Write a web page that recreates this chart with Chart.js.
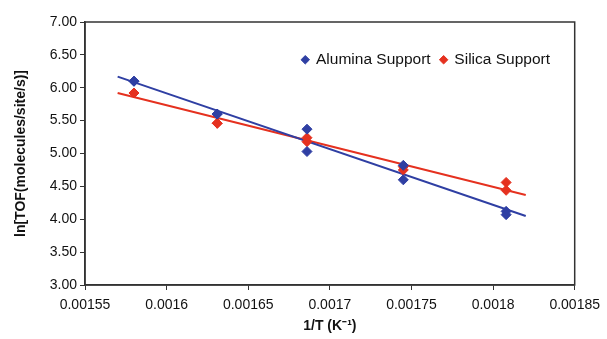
<!DOCTYPE html>
<html>
<head>
<meta charset="utf-8">
<script src="https://cdn.jsdelivr.net/npm/chart.js@4"></script>
<style>
  html, body { margin: 0; padding: 0; background: #fff; }
  #wrap { width: 607px; height: 339px; }
</style>
</head>
<body>
<div id="wrap"><canvas id="c" width="607" height="339"></canvas></div>
<script>
// 1/T values (K^-1) for the five temperatures
const invT = [0.001580, 0.001631, 0.001686, 0.001745, 0.001808];

// ln(TOF), two runs per temperature
const aluminaA = [6.10, 5.60, 5.37, 4.82, 4.12];
const aluminaB = [6.10, 5.60, 5.03, 4.60, 4.07];
const silicaA = [5.92, 5.46, 5.24, 4.80, 4.56];
const silicaB = [5.92, 5.46, 5.18, 4.75, 4.44];

// trend line ends
const trendX = [0.00157, 0.00182];
const aluminaTrend = [6.17, 4.05];
const silicaTrend = [5.92, 4.37];

const xTicks = [0.00155, 0.0016, 0.00165, 0.0017, 0.00175, 0.0018, 0.00185];

const blue = '#2f3fa3';
const red = '#e5311f';

function pts(xs, ...ys) {
    const out = [];
    ys.forEach(arr => arr.forEach((y, i) => out.push({ x: xs[i], y: y })));
    return out;
}

// draw the box round the plot area
const frame = {
    id: 'frame',
    afterDraw(chart) {
        const a = chart.chartArea, ctx = chart.ctx;
        ctx.save();
        ctx.strokeStyle = '#333';
        ctx.lineWidth = 1.5;
        ctx.strokeRect(a.left, a.top, a.right - a.left, a.bottom - a.top);
        ctx.restore();
    }
};

// keep the legend inside the plot, top right
const legendInside = {
    id: 'legendInside',
    beforeLayout(chart) {
        const l = chart.legend;
        if (l && !l._patched) {
            const fit = l.fit;
            l.fit = function () { fit.call(this); this.height = 0; };
            l._patched = true;
        }
    },
    afterLayout(chart) {
        const l = chart.legend;
        l.top = 42;
        l.bottom = 80;
        l.left = 250;
        l.right = 560;
    }
};

const font = "'Liberation Sans', Arial, sans-serif";

new Chart(document.getElementById('c'), {
    type: 'scatter',
    data: {
        datasets: [
            { label: 'Alumina Support', data: pts(invT, aluminaA, aluminaB), backgroundColor: blue, borderColor: blue,
              pointStyle: 'rectRot', pointRadius: 5 },
            { label: 'Silica Support', data: pts(invT, silicaA, silicaB), backgroundColor: red, borderColor: red,
              pointStyle: 'rectRot', pointRadius: 5 },
            { label: 'trend1', type: 'line', data: pts(trendX, aluminaTrend), borderColor: blue, borderWidth: 2,
              pointRadius: 0, fill: false },
            { label: 'trend2', type: 'line', data: pts(trendX, silicaTrend), borderColor: red, borderWidth: 2,
              pointRadius: 0, fill: false }
        ]
    },
    options: {
        responsive: false,
        animation: false,
        layout: { padding: { top: 22, right: 28, left: 13, bottom: 4 } },
        plugins: {
            tooltip: { enabled: false },
            legend: {
                position: 'top',
                align: 'end',
                labels: {
                    usePointStyle: true,
                    boxWidth: 6,
                    boxHeight: 6,
                    padding: 10,
                    color: '#111',
                    font: { family: font, size: 15.5 },
                    sort: (a, b) => a.datasetIndex - b.datasetIndex,
                    filter: item => !item.text.startsWith('trend')
                }
            }
        },
        scales: {
            x: {
                type: 'linear',
                min: 0.00155,
                max: 0.00185,
                afterBuildTicks: s => { s.ticks = xTicks.map(v => ({ value: v })); },
                afterFit: s => { s.height = 50; },
                grid: { drawOnChartArea: false, tickLength: 5, color: '#333' },
                border: { color: '#333', width: 1.5 },
                ticks: {
                    color: '#111',
                    font: { family: font, size: 14 },
                    maxRotation: 0,
                    padding: 7,
                    callback: v => String(Number(v.toFixed(5)))
                },
                title: { display: true, text: '1/T (K\u207B\u00B9)', color: '#111', padding: { top: 2, bottom: 0 },
                         font: { family: font, size: 14, weight: 'bold' } }
            },
            y: {
                min: 3,
                max: 7,
                afterFit: s => { s.width = 72; },
                ticks: {
                    stepSize: 0.5,
                    color: '#111',
                    padding: 3,
                    font: { family: font, size: 14 },
                    callback: v => v.toFixed(2)
                },
                grid: { drawOnChartArea: false, tickLength: 5, color: '#333' },
                border: { color: '#333', width: 1.5 },
                title: { display: true, text: 'ln[TOF(molecules/site/s)]', color: '#111', padding: { top: 0, bottom: 4 },
                         font: { family: font, size: 14, weight: 'bold' } }
            }
        }
    },
    plugins: [legendInside, frame]
});
</script>
</body>
</html>
